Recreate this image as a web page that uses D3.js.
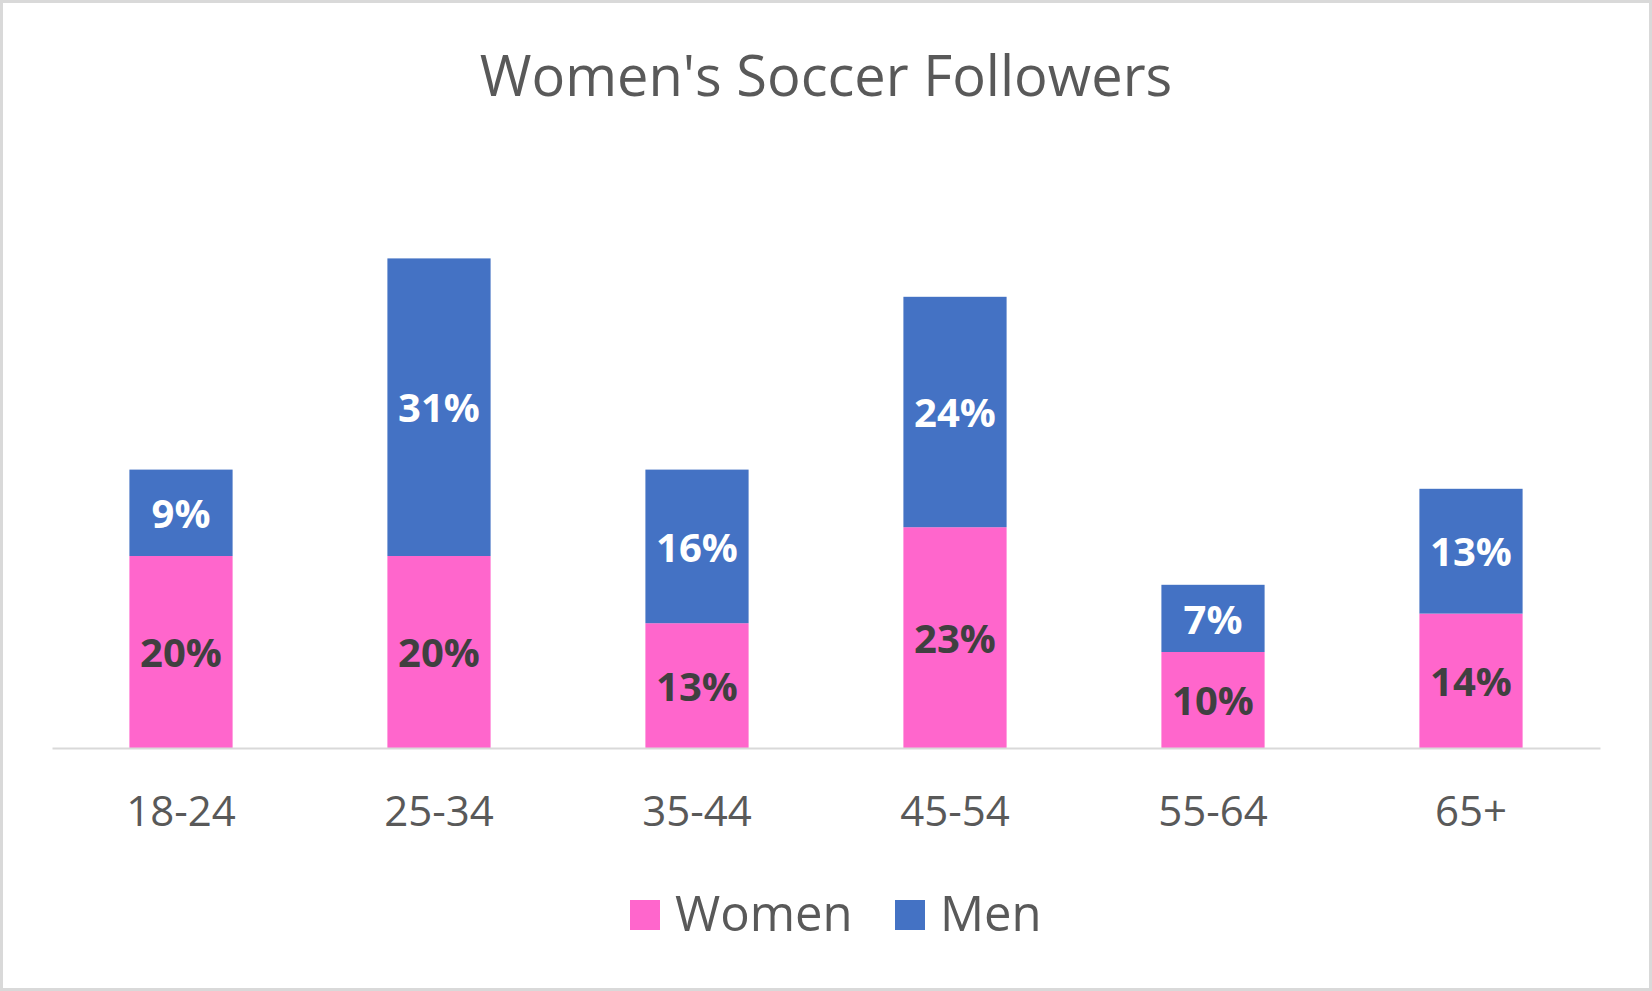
<!DOCTYPE html>
<html>
<head>
<meta charset="UTF-8">
<title>Women's Soccer Followers</title>
<script src="https://d3js.org/d3.v7.min.js"></script>
<style>
  body { margin: 0; background: #fff; }
  svg { display: block; }
</style>
</head>
<body>
<script>

/* Chart data (percent) */
var ages = ['18-24', '25-34', '35-44', '45-54', '55-64', '65+']
var women = [20, 20, 13, 23, 10, 14]
var men = [9, 31, 16, 24, 7, 13]
var seriesNames = ['Women', 'Men']
var seriesColors = ['#ff66cc', '#4472c4']
var labelColors = ['#404040', '#ffffff']

var W = 1652, H = 991
var font = '"Open Sans", sans-serif'
var baseY = 748

var svg = d3.select('body').append('svg')
  .attr('width', W)
  .attr('height', H)

/* White background with light gray frame */
svg.append('rect')
  .attr('x', 1.5).attr('y', 1.5)
  .attr('width', W - 3).attr('height', H - 3)
  .style('fill', '#fff')
  .style('stroke', '#d9d9d9')
  .style('stroke-width', 3)

/* Title */
svg.append('text')
  .attr('x', W / 2)
  .attr('y', 96)
  .text("Women's Soccer Followers")
  .attr('font-family', font)
  .attr('font-size', '56px')
  .style('text-anchor', 'middle')
  .style('fill', '#595959')

var x = d3.scaleBand()
  .domain(ages)
  .range([52, 1600])
  .paddingInner(0.6)
  .paddingOuter(0.3)

var y = d3.scaleLinear()
  .domain([0, 60])
  .range([baseY, 172])

/* Stack the two series */
var rows = ages.map(function(a, i) { return { age: a, Women: women[i], Men: men[i] } })
var stacked = d3.stack().keys(seriesNames)(rows)

var layers = svg.selectAll('g.layer')
  .data(stacked)
  .enter()
  .append('g')
  .attr('class', 'layer')
  .style('fill', function(d, i) { return seriesColors[i] })

layers.selectAll('rect')
  .data(function(d) { return d })
  .enter()
  .append('rect')
  .attr('x', function(d) { return x(d.data.age) })
  .attr('y', function(d) { return y(d[1]) })
  .attr('width', x.bandwidth())
  .attr('height', function(d) { return y(d[0]) - y(d[1]) })

/* Data labels centred in each segment */
var labelSize = 40
stacked.forEach(function(layer, k) {
  svg.append('g').selectAll('text')
    .data(layer)
    .enter()
    .append('text')
    .attr('x', function(d) { return x(d.data.age) + x.bandwidth() / 2 })
    .attr('y', function(d) { return (y(d[0]) + y(d[1])) / 2 + labelSize * 0.38 })
    .text(function(d) { return (d[1] - d[0]) + '%' })
    .attr('font-family', font)
    .attr('font-size', labelSize + 'px')
    .attr('font-weight', 'bold')
    .style('text-anchor', 'middle')
    .style('fill', labelColors[k])
})

/* Category axis */
var axis = svg.append('g')
  .attr('transform', 'translate(0,' + baseY + ')')
  .call(d3.axisBottom(x).tickSize(0).tickSizeOuter(0))

axis.select('.domain')
  .attr('stroke', '#d9d9d9')
  .attr('stroke-width', 2)

axis.selectAll('text')
  .attr('dy', null)
  .attr('y', 78)
  .attr('font-family', font)
  .attr('font-size', '42px')
  .style('fill', '#595959')

/* Legend */
var legendX = [630, 895]
var legend = svg.selectAll('g.legend')
  .data(seriesNames)
  .enter()
  .append('g')
  .attr('class', 'legend')
  .attr('transform', function(d, i) { return 'translate(' + legendX[i] + ',900)' })

legend.append('rect')
  .attr('width', 30)
  .attr('height', 30)
  .style('fill', function(d, i) { return seriesColors[i] })

legend.append('text')
  .attr('x', 45)
  .attr('y', 31)
  .text(function(d) { return d })
  .attr('font-family', font)
  .attr('font-size', '49px')
  .style('fill', '#595959')

</script>
</body>
</html>
